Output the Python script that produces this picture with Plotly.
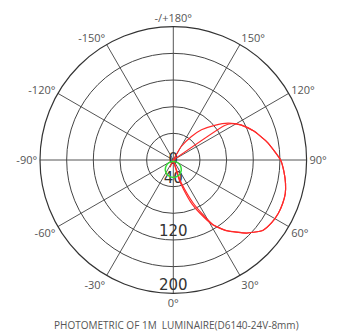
import plotly.graph_objects as go

# Angular ticks
angle_ticks = [0, 30, 60, 90, 120, 150, 180, 210, 240, 270, 300, 330]
angle_labels = ["0°", "30°", "60°", "90°", "120°", "150°", "-/+180°",
                "-150°", "-120°", "-90°", "-60°", "-30°"]

# Radial rings and labels
ring_values = [40, 80, 120, 160, 200]
radial_label_values = [0, 40, 120, 200]

# Red curve A (cd)
theta_a = [-180, 0, 12, 18.4, 21.3, 24.8, 28.6, 31.6, 37, 45, 48, 52, 57.5, 63,
           68.3, 73.3, 78.2, 83.9, 90, 94.6, 101, 110, 117.5, 124, 130, 137,
           142.5, 149.5, 155, 180]
r_a = [0, 0, 0, 31.5, 48, 71.5, 94, 114.5, 133, 155, 162, 171, 175, 176.7,
       176.6, 175.4, 172, 167, 161, 153, 143, 128, 114, 99, 81, 62,
       44, 23.5, 0, 0]

# Red curve B (cd)
theta_b = [-180, -30, -24, -18, 0, 10, 16.5, 19.5, 23, 26.6, 31, 37, 45, 48, 52,
           57.5, 63, 68.3, 73.3, 78.2, 83.9, 90, 94.6, 101, 110, 117.5, 122,
           124, 126, 180]
r_b = [0, 0, 12, 0, 0, 0, 31.5, 48, 71.5, 89.4, 112, 132.8, 155, 162, 171,
       175, 176.7, 176.6, 175.4, 172, 167, 161, 153, 143, 128, 114, 103,
       92, 0, 0]

# Green curve (cd): small closed loop just below the centre
theta_g = [0, 20, 35, 45, 52, 57.4, 52, 45, 35, 20, 0, -20, -35, -45, -52, -57.4,
           -52, -45, -35, -20, 0]
r_g = [2.3, 2.4, 2.9, 3.6, 4.5, 7.7, 13, 16.6, 20.5, 24.4, 26.3, 24.4, 20.5, 16.6,
       13, 7.7, 4.5, 3.6, 2.9, 2.4, 2.3]

title_text = "PHOTOMETRIC OF 1M  LUMINAIRE(D6140-24V-8mm)"

# page body has an 8px margin; compensate so the chart lands where the reference has it
OFF = 8
W, H = 337, 335
cx, cy, rad = 173.3 - OFF, 160 - OFF, 133.3

fig = go.Figure()
# radial value labels first so the curves are drawn over them
fig.add_trace(go.Scatterpolar(
    r=radial_label_values, theta=[0] * len(radial_label_values),
    mode="text", text=[str(v) for v in radial_label_values],
    textposition=["middle center"] + ["top center"] * (len(radial_label_values) - 1),
    textfont=dict(family="DejaVu Sans", size=15, color="#333333"),
    hoverinfo="skip"))
fig.add_trace(go.Scatterpolar(r=r_a, theta=theta_a, mode="lines",
                              line=dict(color="#ff2a2a", width=1.2, shape="spline", smoothing=0.5),
                              hoverinfo="skip"))
fig.add_trace(go.Scatterpolar(r=r_b, theta=theta_b, mode="lines",
                              line=dict(color="#ff2a2a", width=1.2, shape="spline", smoothing=0.5),
                              hoverinfo="skip"))
fig.add_trace(go.Scatterpolar(r=r_g, theta=theta_g, mode="lines",
                              line=dict(color="#35dc35", width=1.5, shape="spline"),
                              hoverinfo="skip"))

fig.update_layout(
    width=W, height=H,
    margin=dict(l=0, r=0, t=0, b=0),
    paper_bgcolor="white",
    showlegend=False,
    polar=dict(
        domain=dict(x=[(cx - rad) / W, (cx + rad) / W],
                    y=[(H - cy - rad) / H, (H - cy + rad) / H]),
        bgcolor="white",
        angularaxis=dict(
            rotation=270, direction="counterclockwise",
            tickmode="array", tickvals=angle_ticks, ticktext=angle_labels,
            ticks="", showline=True, linecolor="#333333", linewidth=1.2,
            gridcolor="#555555", gridwidth=1.2,
            tickfont=dict(family="Open Sans", size=11, color="#555555"),
        ),
        radialaxis=dict(
            range=[0, 200], tickmode="array", tickvals=ring_values,
            showticklabels=False, ticks="", showline=False,
            gridcolor="#444444", gridwidth=1.2,
        ),
    ),
    annotations=[dict(text=title_text, x=0.5, y=(H - (325 - OFF)) / H,
                      xref="paper", yref="paper",
                      showarrow=False, xanchor="center", yanchor="middle",
                      font=dict(family="Open Sans", size=10, color="#555555"))],
)

fig.write_html("out.html")
